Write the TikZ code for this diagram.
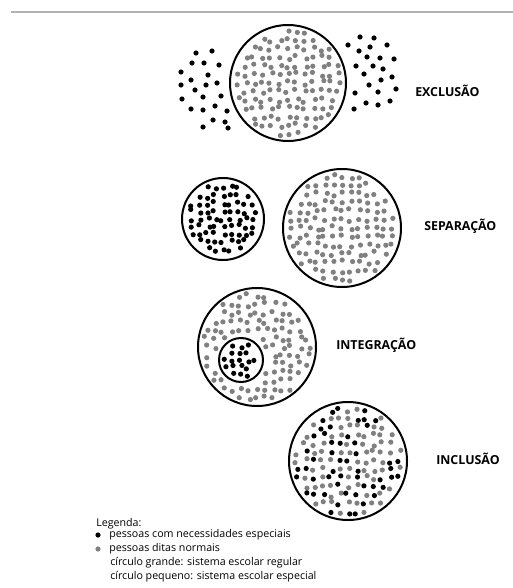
\documentclass[tikz,border=0pt]{standalone}
\usepackage{fontspec}
\setmainfont{Open Sans}
\usepackage{xcolor}
\usepackage{tikz}
\usetikzlibrary{positioning}

\colorlet{negro}{black}
\colorlet{cinza}{black!50}

% dots inside a disc: cx, cy, r, spacing, share of black dots, hole cx, hole cy, hole r
\newcommand{\pessoas}[8]{%
  \foreach \i in {-8,...,8}{%
    \foreach \j in {-8,...,8}{%
      \pgfmathsetmacro{\px}{\i*#4+2.4*rand}%
      \pgfmathsetmacro{\py}{\j*#4+2.4*rand}%
      \pgfmathsetmacro{\dentro}{((\px*\px+\py*\py) < ((#3-4.5)*(#3-4.5))) && (((#1+\px-#6)*(#1+\px-#6)+(#2+\py-#7)*(#2+\py-#7)) >= ((#8+4.5)*(#8+4.5))) ? 1 : 0}%
      \pgfmathsetmacro{\cor}{rnd < #5 ? 1 : 0}%
      \ifdim\dentro pt>0.5pt
        \ifdim\cor pt>0.5pt
          \fill[negro] (#1+\px,#2+\py) circle (2.6);
        \else
          \fill[cinza] (#1+\px,#2+\py) circle (2.6);
        \fi
      \fi
    }%
  }%
}

\begin{document}
\begin{tikzpicture}[x=0.75pt, y=-0.75pt,
    rotulo/.style={anchor=west, inner sep=0pt, font=\fontsize{9.3}{11}\selectfont\bfseries},
    legenda/.style={anchor=west, inner sep=0pt, font=\fontsize{8}{9.5}\selectfont},
    circulo/.style={line width=1.5pt}]
    \useasboundingbox (0,0) rectangle (513,588);
    \pgfmathsetseed{11}
    \draw[gray!60, line width=0.8pt] (11,12) -- (513,12);

    % exclusao
    \pessoas{288}{83}{58}{8.5}{0}{288}{83}{-4.5}
    \draw[circulo] (288,83) circle (58);
    \foreach \p in {(196,53),(212,51),(192,63),(204,63),(219,65),(181,72),(191,80),(208,75),
        (181,85),(195,90),(206,85),(217,83),(182,99),(203,97),(221,96),(191,109),(203,110),
        (215,106),(227,111),(213,120),(225,122),(203,127),(228,128)}
        \fill[negro] \p circle (2.6);
    \foreach \p in {(360,37),(374,38),(348,45),(370,47),(387,45),(359,51),(367,57),(380,58),
        (394,59),(356,66),(373,66),(383,69),(364,74),(381,80),(392,77),(369,85),(396,89),
        (355,93),(378,92),(366,103),(378,105),(390,101),(354,109)}
        \fill[negro] \p circle (2.6);
    \node[rotulo] (exclusao) at (415,91) {EXCLUSÃO};

    % separacao
    \pessoas{223}{219}{41}{7.6}{1}{223}{219}{-4.5}
    \draw[circulo] (223,219) circle (41);
    \pessoas{342}{228}{59}{8.5}{0}{342}{228}{-4.5}
    \draw[circulo] (342,228) circle (59);
    \node[rotulo] (separacao) at (424,226) {SEPARAÇÃO};

    % integracao
    \pessoas{257}{347}{59}{8.5}{0}{241}{360}{22}
    \pessoas{241}{360}{22}{7.2}{1}{241}{360}{-4.5}
    \draw[circulo] (257,347) circle (59);
    \draw[circulo] (241,360) circle (22);
    \node[rotulo] (integracao) at (336,345) {INTEGRAÇÃO};

    % inclusao
    \pessoas{348}{461}{59}{8.5}{0.45}{348}{461}{-4.5}
    \draw[circulo] (348,461) circle (59);
    \node[rotulo] (inclusao) at (436,459) {INCLUSÃO};

    % legenda
    \node[legenda] (leg) at (96,524) {Legenda:};
    \fill[negro] (98,535) circle (2.6);
    \node[legenda] (leg1) at (109,535) {pessoas com necessidades especiais};
    \fill[cinza] (98,549) circle (2.6);
    \node[legenda] (leg2) at (109,549) {pessoas ditas normais};
    \node[legenda] (leg3) at (110,563) {círculo grande: sistema escolar regular};
    \node[legenda] (leg4) at (110,577) {círculo pequeno: sistema escolar especial};
\end{tikzpicture}
\end{document}
